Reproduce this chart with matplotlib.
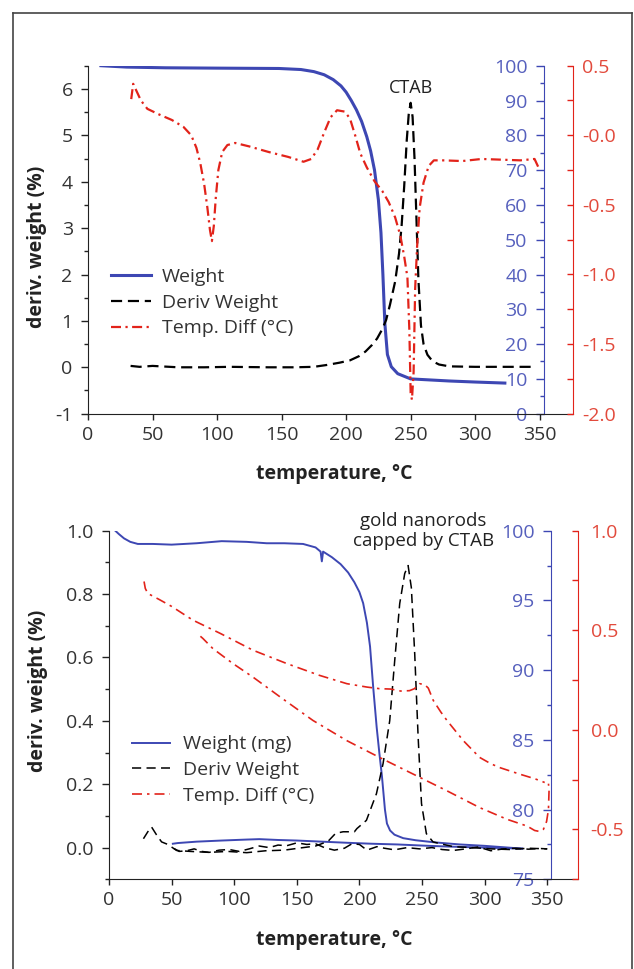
import numpy as np
import matplotlib
matplotlib.use("Agg")
import matplotlib.pyplot as plt
from matplotlib.lines import Line2D
from matplotlib.ticker import MultipleLocator

plt.rcParams['font.family'] = ['Open Sans', 'DejaVu Sans']
plt.rcParams['axes.unicode_minus'] = False

BLUE = '#3d47b3'
BLUE_TXT = '#5660bd'
RED = '#e2231a'
RED_TXT = '#e24a3c'
INK = '#333333'

# ---------------- upper panel: CTAB ----------------
t1_weight = [10, 30, 60, 100, 148, 165, 175, 183, 190, 196, 200, 204, 208, 212, 216, 219,
             222, 225, 227, 228.5, 230, 232, 235, 240, 250, 265, 280, 300, 323]
weight1 = [100, 99.6, 99.4, 99.3, 99.2, 98.9, 98.3, 97.4, 96, 94.2, 92.4, 90, 87.3, 84, 79.6, 75.5,
           70, 61.5, 52, 40, 26, 17, 13.5, 11.5, 10, 9.7, 9.4, 9.1, 8.8]

t1_deriv = [33, 40, 50, 70, 90, 110, 140, 160, 175, 185, 195, 203, 210, 215, 220, 224, 228, 231,
            234, 238, 241, 243, 245, 247, 248.5, 250, 251.5, 253, 254.5, 256, 258, 260, 263, 267,
            272, 280, 300, 320, 345]
deriv1 = [0.03, 0.01, 0.03, 0.0, 0.0, 0.01, 0.0, 0.0, 0.01, 0.05, 0.1, 0.15, 0.24, 0.34, 0.48, 0.62,
          0.82, 1.02, 1.35, 1.85, 2.45, 3.05, 3.9, 4.9, 5.45, 5.7, 5.4, 4.5, 3.2, 1.9, 0.9, 0.5, 0.27,
          0.13, 0.06, 0.02, 0.01, 0.01, 0.01]

t1_diff = [33.5, 35, 37, 41, 46, 55, 65, 74, 80, 84, 87, 90, 92.5, 94.5, 96, 97.5, 99, 101, 104,
           108, 114, 125, 140, 155, 167, 173, 178, 183, 188, 193, 199, 203, 207, 211, 216, 222, 228,
           233, 238, 242, 245, 247.5, 249, 250, 251, 252.3, 253.5, 255, 257, 260, 264, 268, 275,
           290, 305, 320, 335, 346, 349]
diff1 = [0.26, 0.37, 0.33, 0.25, 0.19, 0.15, 0.11, 0.06, 0.0, -0.09, -0.2, -0.35, -0.52, -0.68,
         -0.76, -0.65, -0.45, -0.25, -0.12, -0.07, -0.055, -0.08, -0.12, -0.155, -0.19, -0.17, -0.1,
         0.02, 0.13, 0.18, 0.17, 0.12, 0.0, -0.13, -0.23, -0.33, -0.4, -0.48, -0.59, -0.72, -0.87,
         -1.02, -1.4, -1.85, -1.9, -1.7, -1.1, -0.8, -0.52, -0.34, -0.22, -0.18, -0.18, -0.185,
         -0.17, -0.175, -0.18, -0.17, -0.23]

# ---------------- lower panel: gold nanorods ----------------
t2_weight = [5, 8, 12, 17, 23, 35, 50, 70, 90, 110, 126, 140, 155, 165, 169, 170, 171, 178, 185,
             191, 196, 200, 203, 206, 208.5, 211, 213.8, 216, 218, 220.4, 222, 224.5, 228, 235, 245,
             260, 280, 300, 315, 330]
weight2 = [100.0, 99.75, 99.45, 99.2, 99.05, 99.05, 99.0, 99.1, 99.25, 99.2, 99.1, 99.1, 99.05,
           98.8, 98.5, 97.8, 98.5, 98.1, 97.6, 97.0, 96.3, 95.6, 94.8, 93.4, 91.7, 88.8, 85.9, 84.0,
           82.4, 80.0, 79.0, 78.5, 78.2, 77.95, 77.8, 77.65, 77.5, 77.4, 77.3, 77.2]

t2_weight_ref = [51, 55, 70, 90, 110, 120, 135, 150, 170, 190, 210, 230, 250, 270, 290, 310, 330]
weight2_ref = [77.55, 77.6, 77.7, 77.78, 77.85, 77.88, 77.82, 77.78, 77.7, 77.62, 77.55, 77.5,
               77.42, 77.35, 77.3, 77.25, 77.2]

t2_deriv = [27.5, 31, 34, 38, 42, 47, 54, 65, 80, 95, 110, 125, 140, 155, 165, 175, 181, 187, 196,
            198, 205.6, 213.6, 218.9, 224.2, 228.2, 232.2, 236.2, 238.9, 241.5, 244.2, 246.9,
            249.6, 253.5, 258.8, 265, 275, 290, 305, 320, 335, 350]
deriv2 = [0.028, 0.05, 0.065, 0.04, 0.018, 0.01, -0.009, -0.012, -0.015, -0.012, -0.016, -0.01,
          -0.008, 0.0, 0.005, 0.02, 0.045, 0.05, 0.05, 0.06, 0.086, 0.17, 0.265, 0.40, 0.59, 0.77,
          0.865, 0.89, 0.82, 0.61, 0.35, 0.139, 0.044, 0.018, 0.012, 0.003, 0.0, -0.004, -0.006,
          -0.002, -0.004]

t2_deriv_ref = [52, 56, 62, 68, 74, 80, 88, 96, 104, 112, 120, 128, 135, 142, 150, 158, 165, 172,
                180, 188, 194, 200, 206, 214, 220, 228, 238, 248, 258, 266, 275, 285, 295, 305,
                315, 325, 335, 345, 350]
deriv2_ref = [-0.003, -0.012, -0.01, -0.004, -0.012, -0.015, -0.008, -0.006, -0.012, -0.004, 0.005,
              0.0, 0.008, 0.006, 0.015, 0.01, 0.012, 0.0, -0.008, -0.002, 0.012, 0.01, -0.008,
              0.003, -0.002, -0.007, 0.0, -0.004, 0.0, -0.006, -0.009, -0.004, 0.002, -0.01,
              -0.004, -0.002, -0.005, -0.003, -0.004]

t2_diff = [28, 29, 31, 40, 50, 67, 89, 115, 142, 168, 190, 206, 216, 225, 233, 240, 244, 248, 252,
           255, 259, 265, 270, 283, 296, 305, 312, 328, 340, 348]
diff2 = [0.745, 0.71, 0.685, 0.655, 0.62, 0.551, 0.484, 0.40, 0.333, 0.274, 0.232, 0.215, 0.207,
         0.205, 0.195, 0.197, 0.207, 0.232, 0.228, 0.21, 0.148, 0.09, 0.047, -0.054, -0.138, -0.17,
         -0.189, -0.222, -0.245, -0.264]

t2_diff_ref = [73, 75, 83, 99, 115, 137, 163, 190, 216, 243, 270, 296, 318, 334, 340, 344, 347,
               349.5, 351, 351.5, 351]
diff2_ref = [0.47, 0.459, 0.408, 0.333, 0.265, 0.164, 0.047, -0.054, -0.138, -0.222, -0.306, -0.39,
             -0.449, -0.483, -0.505, -0.51, -0.499, -0.46, -0.4, -0.3, -0.27]

fig = plt.figure(figsize=(6.34, 9.69), dpi=100)
fig.patch.set_facecolor('white')

# outer frame
for xs, ys in [([13/634, 13/634], [-0.1, 1 - 12.5/969]),
               ([13/634, 632/634], [1 - 12.5/969, 1 - 12.5/969]),
               ([632/634, 632/634], [-0.1, 1 - 12.5/969])]:
    fig.add_artist(Line2D(xs, ys, transform=fig.transFigure, color='#444444', lw=1.2))


def make_panel(rect, xmax, blue_at, ylim, ymajor, yminor, blim, bmajor, bminor, rlim, rticks,
               rlabels, ylab_pos, xlab_pos):
    ax_b = fig.add_axes(rect, zorder=1)
    ax = fig.add_axes(rect, zorder=2, sharex=ax_b)
    ax_r = fig.add_axes(rect, zorder=3, sharex=ax_b)
    for a in (ax_b, ax, ax_r):
        a.patch.set_visible(False)
        for s in a.spines.values():
            s.set_visible(False)
    ax_b.set_xlim(0, xmax)

    # main axis: deriv weight
    ax.spines['left'].set_visible(True)
    ax.spines['bottom'].set_visible(True)
    ax.spines['left'].set_color('#222222')
    ax.spines['bottom'].set_color('#222222')
    ax.set_ylim(*ylim)
    ax.yaxis.set_major_locator(MultipleLocator(ymajor))
    ax.yaxis.set_minor_locator(MultipleLocator(yminor))
    ax.set_xticks(np.arange(0, 351, 50))
    ax.tick_params(axis='y', which='major', length=5, width=1, direction='out', labelsize=14,
                   labelcolor=INK, color='#222222', pad=6)
    ax.tick_params(axis='y', which='minor', length=3, width=1, direction='out', color='#222222')
    ax.tick_params(axis='x', which='major', length=4.5, width=1, direction='out', labelsize=14,
                   labelcolor=INK, color='#222222', pad=4)
    ax.set_ylabel('deriv. weight (%)', fontsize=14, fontweight='bold', color='#222222')
    ax.yaxis.set_label_coords(*ylab_pos)
    ax.set_xlabel('temperature, °C', fontsize=14, fontweight='bold', color='#222222')
    ax.xaxis.set_label_coords(*xlab_pos)

    # blue axis: weight, placed inside the plot
    ax_b.xaxis.set_visible(False)
    ax_b.spines['left'].set_visible(True)
    ax_b.spines['left'].set_position(('axes', blue_at))
    ax_b.spines['left'].set_color(BLUE)
    ax_b.set_ylim(*blim)
    ax_b.yaxis.set_major_locator(MultipleLocator(bmajor))
    ax_b.yaxis.set_minor_locator(MultipleLocator(bminor))
    ax_b.tick_params(axis='y', which='major', length=5.5, width=1, direction='out', labelsize=14,
                     labelcolor=BLUE_TXT, color=BLUE, pad=6)
    ax_b.tick_params(axis='y', which='minor', length=3, width=1, direction='out', color=BLUE)

    # red axis: temperature difference
    ax_r.xaxis.set_visible(False)
    ax_r.spines['right'].set_visible(True)
    ax_r.spines['right'].set_color(RED)
    ax_r.yaxis.tick_right()
    ax_r.set_ylim(*rlim)
    ax_r.set_yticks(rticks)
    ax_r.set_yticklabels(rlabels)
    ax_r.yaxis.set_minor_locator(MultipleLocator(0.25))
    ax_r.tick_params(axis='y', which='major', length=4.5, width=1, direction='in', labelsize=14,
                     labelcolor=RED_TXT, color=RED, pad=6.5)
    ax_r.tick_params(axis='y', which='minor', length=4.5, width=1, direction='in', color=RED)
    return ax, ax_b, ax_r


# upper panel
ax1, ax1b, ax1r = make_panel([88/634, 1 - 413.7/969, 485/634, 348/969], 375.8, 0.9393,
                             (-1, 6.5), 1, 0.5, (0, 100), 10, 5, (-2.0, 0.5),
                             [0.5, 0.0, -0.5, -1.0, -1.5, -2.0],
                             ['0.5', '-0.0', '-0.5', '-1.0', '-1.5', '-2.0'],
                             (-0.085, 0.48), (0.508, -0.145))
l1, = ax1b.plot(t1_weight, weight1, color=BLUE, lw=2.2, label='Weight')
l2, = ax1.plot(t1_deriv, deriv1, color='black', lw=1.6, dashes=(5, 2.6), label='Deriv Weight')
l3, = ax1r.plot(t1_diff, diff1, color=RED, lw=1.6, dashes=(4.5, 2, 1, 2), label='Temp. Diff (°C)')
ax1b.get_yticklabels()[0].set_va('bottom')
ax1r.legend(handles=[l1, l2, l3], loc='upper left', bbox_to_anchor=(0.047, 0.419), frameon=False,
            fontsize=14, labelcolor=INK, handlelength=2.06, handletextpad=0.57, labelspacing=0.4,
            borderpad=0, borderaxespad=0)
ax1.text(250, 6.03, 'CTAB', ha='center', va='center', fontsize=13, color='#222222')

# lower panel
ax2, ax2b, ax2r = make_panel([109/634, 1 - 879.3/969, 469/634, 348.6/969], 374.6, 0.9414,
                             (-0.1, 1.0), 0.2, 0.1, (75, 100), 5, 2.5, (-0.75, 1.0),
                             [1.0, 0.5, 0.0, -0.5], ['1.0', '0.5', '0.0', '-0.5'],
                             (-0.13, 0.54), (0.481, -0.145))
ax2.yaxis.set_major_formatter(matplotlib.ticker.FormatStrFormatter('%.1f'))
ax2r.tick_params(axis='y', which='major', pad=9)
m1, = ax2b.plot(t2_weight, weight2, color=BLUE, lw=1.4, label='Weight (mg)')
ax2b.plot(t2_weight_ref, weight2_ref, color=BLUE, lw=1.4)
m2, = ax2.plot(t2_deriv, deriv2, color='black', lw=1.1, dashes=(6, 3.5), label='Deriv Weight')
ax2.plot(t2_deriv_ref, deriv2_ref, color='black', lw=1.1, dashes=(6, 3.5))
m3, = ax2r.plot(t2_diff, diff2, color=RED, lw=1.2, dashes=(6, 3, 1.5, 3), label='Temp. Diff (°C)')
ax2r.plot(t2_diff_ref, diff2_ref, color=RED, lw=1.2, dashes=(6, 3, 1.5, 3))
ax2b.get_yticklabels()[0].set_va('bottom')
ax2r.legend(handles=[m1, m2, m3], loc='upper left', bbox_to_anchor=(0.048, 0.413), frameon=False,
            fontsize=14, labelcolor=INK, handlelength=2.0, handletextpad=0.67, labelspacing=0.4,
            borderpad=0, borderaxespad=0)
ax2.text(251, 1.0, 'gold nanorods\ncapped by CTAB', ha='center', va='center', fontsize=13.5,
         color='#222222', linespacing=1.15)

fig.savefig('out.png', dpi=100, facecolor='white')
